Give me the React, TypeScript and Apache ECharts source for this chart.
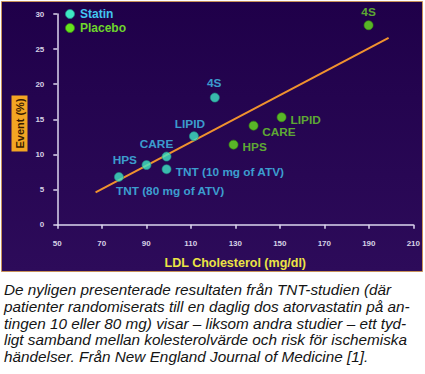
import React, { useEffect, useRef } from "react";
import * as echarts from "echarts";

const statinNames = ["TNT (80 mg of ATV)", "HPS", "CARE", "TNT (10 mg of ATV)", "LIPID", "4S"];
const statinLDL = [77.7, 90.1, 99.1, 99.1, 111.4, 120.8];
const statinEvent = [6.8, 8.5, 9.7, 7.9, 12.6, 18.1];

const placeboNames = ["4S", "LIPID", "CARE", "HPS"];
const placeboLDL = [189.9, 150.8, 138.2, 129.2];
const placeboEvent = [28.4, 15.3, 14.1, 11.4];

const trendLDL = [67.2, 198.9];
const trendEvent = [4.6, 26.6];

const xTicks = [50, 70, 90, 110, 130, 150, 170, 190, 210];
const yTicks = [0, 5, 10, 15, 20, 25, 30];

const caption = [
  "De nyligen presenterade resultaten från TNT-studien (där",
  "patienter randomiserats till en daglig dos atorvastatin på an-",
  "tingen 10 eller 80 mg) visar – liksom andra studier – ett tyd-",
  "ligt samband mellan kolesterolvärde och risk för ischemiska",
  "händelser. Från New England Journal of Medicine [1].",
];

// label placement (offset from point centre, alignment)
const statinLabelPos: [number, number, string][] = [
  [-3, 14.3, "left"],
  [-21.7, -5.5, "center"],
  [-10, -12.7, "center"],
  [9.3, 3, "left"],
  [-4, -12.7, "center"],
  [-0.7, -14.4, "center"],
];
const placeboLabelPos: [number, number, string][] = [
  [0, -13.3, "center"],
  [9, 2.3, "left"],
  [8.7, 6.3, "left"],
  [9, 2.7, "left"],
];

const CYAN_DOT = "#3fe8c4";
const CYAN_TEXT = "#42c6f0";
const GREEN_DOT = "#66e21e";
const GREEN_TEXT = "#6ed52c";
const FONT = "Liberation Sans, Arial, sans-serif";

export default function App() {
  const ref = useRef<HTMLDivElement>(null);
  useEffect(() => {
    if (!ref.current) return;
    const chart = echarts.init(ref.current, undefined, { renderer: "svg" });
    const labelStyle = (color: string, pos: [number, number, string]) => ({
      show: true,
      position: "inside" as const,
      offset: [pos[0], pos[1]],
      align: pos[2],
      verticalAlign: "middle",
      color,
      fontFamily: FONT,
      fontWeight: "bold" as const,
      fontSize: 11.8,
    });
    const statinData = statinNames.map((n, i) => ({
      name: n,
      value: [statinLDL[i], statinEvent[i]],
      label: { ...labelStyle(CYAN_TEXT, statinLabelPos[i]), formatter: n },
    }));
    const placeboData = placeboNames.map((n, i) => ({
      name: n,
      value: [placeboLDL[i], placeboEvent[i]],
      label: { ...labelStyle(GREEN_TEXT, placeboLabelPos[i]), formatter: n },
    }));
    const axisLabel = {
      color: "#d6d2e6",
      fontFamily: FONT,
      fontWeight: "bold" as const,
      fontSize: 8,
    };
    chart.setOption({
      animation: false,
      backgroundColor: "#ffffff",
      grid: { left: 57.3, right: 11.7, top: 14, bottom: 149.3, containLabel: false },
      xAxis: {
        type: "value",
        min: xTicks[0],
        max: xTicks[xTicks.length - 1],
        interval: 20,
        axisLine: { show: true, lineStyle: { color: "#dcd6ee", width: 1.5 } },
        axisTick: { show: true, length: 4, lineStyle: { color: "#dcd6ee", width: 1.5 } },
        axisLabel: { ...axisLabel, margin: 15 },
        splitLine: { show: false },
        name: "LDL Cholesterol (mg/dl)",
        nameLocation: "middle",
        nameGap: 32,
        nameTextStyle: { color: "#ece444", fontFamily: FONT, fontWeight: "bold", fontSize: 12.5 },
      },
      yAxis: {
        type: "value",
        min: yTicks[0],
        max: yTicks[yTicks.length - 1],
        interval: 5,
        axisLine: { show: true, lineStyle: { color: "#dcd6ee", width: 1.5 } },
        axisTick: { show: true, length: 4, lineStyle: { color: "#dcd6ee", width: 1.5 } },
        axisLabel: { ...axisLabel, margin: 13 },
        splitLine: { show: false },
      },
      graphic: [
        {
          type: "rect",
          z: -10,
          shape: { x: 1.5, y: 1.5, width: 421, height: 270 },
          style: {
            fill: {
              type: "linear", x: 0, y: 0, x2: 0, y2: 1,
              colorStops: [
                { offset: 0, color: "#1f0049" },
                { offset: 1, color: "#2d0b5a" },
              ],
            },
            stroke: "#c8925a",
            lineWidth: 1,
          },
        },
        {
          type: "text",
          x: 19.5,
          y: 123.5,
          rotation: Math.PI / 2,
          style: {
            text: "Event (%)",
            fill: "#3a1c00",
            font: "bold 11px " + FONT,
            align: "center",
            verticalAlign: "middle",
            backgroundColor: "#f3a523",
            padding: [3, 3, 2, 3],
          },
        },
        {
          type: "circle",
          shape: { cx: 70, cy: 14, r: 4.5 },
          style: { fill: CYAN_DOT, stroke: "#1f8f86", lineWidth: 0.8 },
        },
        {
          type: "text",
          x: 80,
          y: 14,
          style: { text: "Statin", fill: CYAN_TEXT, font: "bold 12px " + FONT, verticalAlign: "middle" },
        },
        {
          type: "circle",
          shape: { cx: 70, cy: 28, r: 4.5 },
          style: { fill: GREEN_DOT, stroke: "#3a8a10", lineWidth: 0.8 },
        },
        {
          type: "text",
          x: 80,
          y: 28,
          style: { text: "Placebo", fill: GREEN_TEXT, font: "bold 12px " + FONT, verticalAlign: "middle" },
        },
        {
          type: "text",
          x: 4,
          y: 281.5,
          style: {
            text: caption.join("\n"),
            fill: "#141414",
            font: "italic 15.3px " + FONT,
            lineHeight: 16.7,
          },
        },
      ],
      series: [
        {
          type: "line",
          data: trendLDL.map((x, i) => [x, trendEvent[i]]),
          symbol: "none",
          lineStyle: { color: "#f0922e", width: 2 },
          z: 1,
        },
        {
          type: "scatter",
          name: "Statin",
          data: statinData,
          symbolSize: 9,
          itemStyle: { color: CYAN_DOT, borderColor: "#1f8f86", borderWidth: 0.8 },
          z: 3,
        },
        {
          type: "scatter",
          name: "Placebo",
          data: placeboData,
          symbolSize: 9,
          itemStyle: { color: GREEN_DOT, borderColor: "#3a8a10", borderWidth: 0.8 },
          z: 3,
        },
      ],
    });
    return () => chart.dispose();
  }, []);
  return (
    <div
      ref={ref}
      style={{ position: "fixed", left: 0, top: 0, width: 425, height: 374 }}
    />
  );
}
